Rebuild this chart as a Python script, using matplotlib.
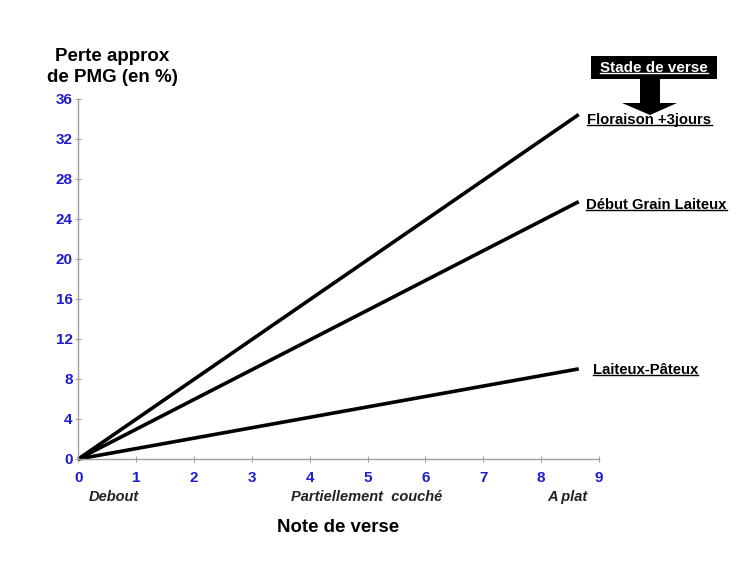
import matplotlib
matplotlib.use('Agg')
import matplotlib.pyplot as plt
from matplotlib.patches import Rectangle, Polygon
from matplotlib.lines import Line2D

# --- données ---
note_verse = [0, 8.65]
perte_floraison = [0, 34.4]
perte_debut_laiteux = [0, 25.7]
perte_laiteux_pateux = [0, 9.0]

stades = ['Floraison +3jours', 'Début Grain Laiteux', 'Laiteux-Pâteux']
x_ticks = list(range(0, 10))
y_ticks = list(range(0, 37, 4))
etats = ['Debout', 'Partiellement  couché', 'A plat']

W, H = 747, 576
BLEU = '#1c1cd0'

plt.rcParams['font.family'] = ['Liberation Sans', 'DejaVu Sans']
plt.rcParams['font.weight'] = 'bold'

fig = plt.figure(figsize=(W / 100, H / 100), dpi=100)
ax = fig.add_axes([78.3 / W, 1 - 459 / H, (599 - 78.3) / W, (459 - 98.5) / H])


def px(x, y):
    """pixels (origine en haut à gauche) -> fraction de figure"""
    return x / W, 1 - y / H


series = [perte_floraison, perte_debut_laiteux, perte_laiteux_pateux]
for vals in series:
    ax.plot(note_verse, vals, color='black', lw=2.6, solid_capstyle='butt', clip_on=False)

ax.set_xlim(0, 9)
ax.set_ylim(0, 36)
ax.set_xticks(x_ticks)
ax.set_yticks(y_ticks)
for side in ['top', 'right']:
    ax.spines[side].set_visible(False)
for side in ['left', 'bottom']:
    ax.spines[side].set_color('#a0a0a0')
    ax.spines[side].set_linewidth(1.0)
ax.tick_params(direction='inout', length=4, width=0.8, color='#a0a0a0',
               labelcolor=BLEU, labelsize=11)
ax.tick_params(axis='x', pad=7)
ax.tick_params(axis='y', pad=2)

# étiquettes des courbes
label_pos = [(8.80, 33.9), (8.78, 25.4), (8.89, 8.9)]
textes_soulignes = []
for nom, (lx, ly) in zip(stades, label_pos):
    t = ax.text(lx, ly, nom, fontsize=10.7, fontweight='bold', ha='left', va='center',
                clip_on=False)
    textes_soulignes.append((t, 'black'))

# titres
fig.text(*px(112, 67), 'Perte approx\nde PMG (en %)', ha='center', va='center',
         fontsize=13.5, fontweight='bold', linespacing=1.35)
fig.text(*px(338, 528), 'Note de verse', ha='center', va='center',
         fontsize=13.4, fontweight='bold')

etat_pos = [113.5, 367, 567]
for nom, xp in zip(etats, etat_pos):
    fig.text(*px(xp, 497), nom, ha='center', va='center', fontsize=10.5,
             fontweight='bold', style='italic', color='#222222')

# encadré "Stade de verse" + flèche
fig.patches.append(Rectangle(px(591, 79.3), (717 - 591) / W, (79.3 - 56) / H,
                             transform=fig.transFigure, facecolor='black',
                             edgecolor='none'))
fleche = [(640, 79), (660, 79), (660, 103), (677, 103), (650, 115),
          (622, 103), (640, 103)]
fig.patches.append(Polygon([px(*p) for p in fleche], closed=True,
                           transform=fig.transFigure, facecolor='black',
                           edgecolor='none'))
t = fig.text(*px(654, 67.5), 'Stade de verse', ha='center', va='center',
             fontsize=11, fontweight='bold', color='white')
textes_soulignes.append((t, 'white'))

# soulignement
fig.canvas.draw()
renderer = fig.canvas.get_renderer()
inv = fig.transFigure.inverted()
for t, col in textes_soulignes:
    bb = t.get_window_extent(renderer)
    (x0, y0), (x1, _) = inv.transform([(bb.x0, bb.y0 + 1.5), (bb.x1, bb.y0 + 1.5)])
    fig.lines.append(Line2D([x0, x1], [y0, y0], transform=fig.transFigure,
                            color=col, lw=1.0))

fig.savefig('out.png', dpi=100)
